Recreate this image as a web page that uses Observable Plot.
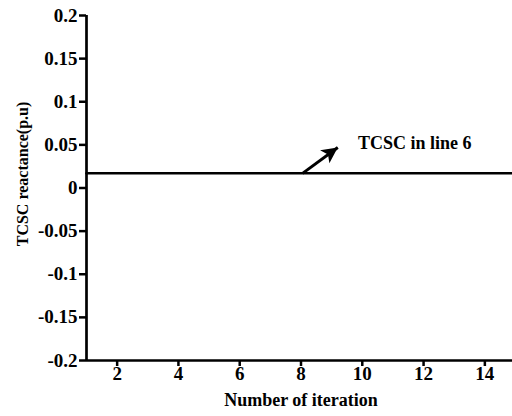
<!DOCTYPE html>
<html>
<head>
<meta charset="utf-8">
<script src="https://cdn.jsdelivr.net/npm/d3@7"></script>
<script src="https://cdn.jsdelivr.net/npm/@observablehq/plot@0.6"></script>
<style>
  html, body { margin: 0; padding: 0; background: #fff; }
  #chart svg { display: block; }
</style>
</head>
<body>
<div id="chart"></div>
<script>
const iterations = [1, 2, 3, 4, 5, 6, 7, 8, 9, 10, 11, 12, 13, 14, 15];
const reactance = [0.017, 0.017, 0.017, 0.017, 0.017, 0.017, 0.017, 0.017, 0.017, 0.017, 0.017, 0.017, 0.017, 0.017, 0.017];
const xTicks = [2, 4, 6, 8, 10, 12, 14];
const yTicks = [-0.2, -0.15, -0.1, -0.05, 0, 0.05, 0.1, 0.15, 0.2];
const annotationText = ["TCSC in line 6"];
const arrowFrom = [8.05, 0.017];
const arrowTo = [9.2, 0.047];
const labelAt = [9.86, 0.0515];
const xTitle = "Number of iteration";
const yTitle = "TCSC reactance(p.u)";

const data = iterations.map((it, i) => ({it, v: reactance[i]}));

const font = "'Liberation Serif', 'Times New Roman', serif";

// filled arrowhead, tip at origin, pointing up
const arrowHead = {
  draw(ctx) {
    ctx.moveTo(0, 0);
    ctx.lineTo(-8, 16);
    ctx.lineTo(0, 12);
    ctx.lineTo(8, 16);
    ctx.closePath();
  }
};

const chart = Plot.plot({
  width: 512,
  height: 416,
  marginLeft: 86,
  marginRight: -3,
  marginTop: 15,
  marginBottom: 56,
  style: {fontFamily: font, fontSize: "18px", fontWeight: "bold", color: "#000", background: "#fff"},
  x: {domain: [1, 15]},
  y: {domain: [-0.2, 0.2]},
  marks: [
    Plot.axisY({ticks: yTicks, tickFormat: () => "", tickSize: 7, strokeWidth: 2.5, label: null}),
    Plot.axisX({ticks: xTicks, tickFormat: () => "", tickSize: 6, strokeWidth: 2.5, label: null}),
    Plot.text(yTicks, {x: () => 1, y: d => d, text: d => String(d), dx: -9, textAnchor: "end",
      fontSize: 19, fontWeight: "bold", fontFamily: font}),
    Plot.text(xTicks, {x: d => d, frameAnchor: "bottom", dy: 19, text: d => String(d),
      fontSize: 19, fontWeight: "bold", fontFamily: font}),
    Plot.text([yTitle], {frameAnchor: "left", rotate: -90, dx: -64, dy: -14, textAnchor: "middle",
      text: d => d, fontSize: 16, fontWeight: "bold", fontFamily: font}),
    Plot.text([xTitle], {frameAnchor: "bottom", dy: 45, text: d => d, fontSize: 18, fontWeight: "bold", fontFamily: font}),
    Plot.ruleX([1], {strokeWidth: 2.7}),
    Plot.ruleY([-0.2], {strokeWidth: 2.7}),
    Plot.line(data, {x: "it", y: "v", strokeWidth: 2.5, stroke: "#000"}),
    Plot.link([{x1: arrowFrom[0], y1: arrowFrom[1], x2: arrowTo[0], y2: arrowTo[1]}],
      {x1: "x1", y1: "y1", x2: "x2", y2: "y2", strokeWidth: 3, stroke: "#000"}),
    Plot.dot([{x: arrowTo[0], y: arrowTo[1]}], {x: "x", y: "y", symbol: arrowHead, rotate: 54.5, fill: "#000", stroke: "none"}),
    Plot.text(annotationText, {x: () => labelAt[0], y: () => labelAt[1], text: d => d, textAnchor: "start",
      fontSize: 18, fontWeight: "bold", fontFamily: font})
  ]
});
document.getElementById("chart").appendChild(chart);
</script>
</body>
</html>
